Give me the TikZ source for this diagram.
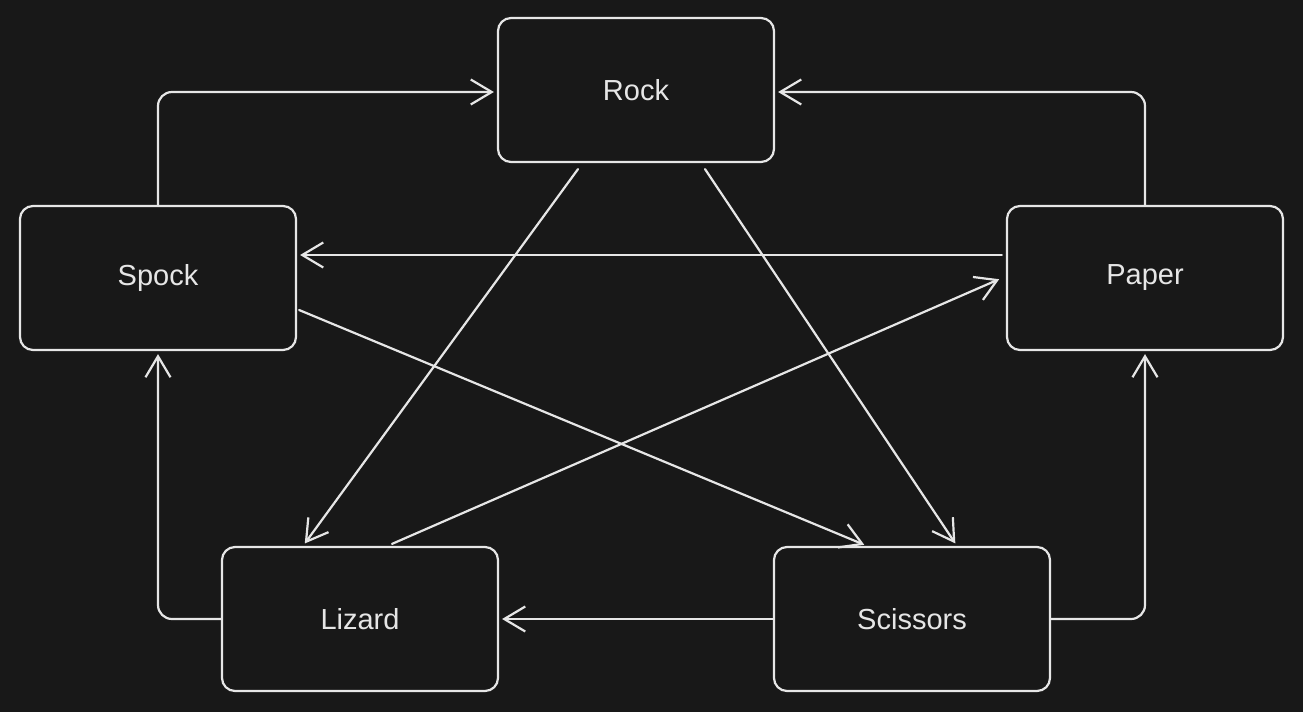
\documentclass[tikz,border=0pt]{standalone}
\usepackage{fontspec}
\setmainfont{Liberation Sans}
\usetikzlibrary{arrows.meta,calc}
\definecolor{bgc}{HTML}{181818}
\definecolor{fgc}{HTML}{E6E6E6}
\begin{document}
\begin{tikzpicture}[x=1pt,y=-1pt,
  box/.style={draw=fgc,fill=bgc,line width=2.2pt,rounded corners=13pt,
    minimum width=276pt,minimum height=144pt,inner sep=0pt,
    text=fgc,font=\fontsize{29}{32}\selectfont},
  conn/.style={draw=fgc,line width=2.2pt,line cap=round,
    -{Straight Barb[length=21pt,width=25pt,line width=2.2pt]},
    shorten >=3pt,rounded corners=14pt}]
\fill[bgc] (0,0) rectangle (1303,712);
\useasboundingbox (0,0) rectangle (1303,712);
\node[box] (Rock) at (636,90) {Rock};
\node[box] (Spock) at (158,278) {Spock};
\node[box] (Paper) at (1145,278) {Paper};
\node[box] (Lizard) at (360,619) {Lizard};
\node[box] (Scissors) at (912,619) {Scissors};
% orthogonal connectors
\draw[conn] (Spock.north) |- ($(Rock.west)+(0,2)$);
\draw[conn] (Paper.north) |- ($(Rock.east)+(0,2)$);
\draw[conn] (Lizard.west) -| (Spock.south);
\draw[conn] (Scissors.east) -| (Paper.south);
\draw[conn] (Scissors.west) -- (Lizard.east);
% straight connectors
\draw[conn] ($(Paper.west)+(-4,-23)$) -- ($(Spock.east)+(0,-23)$);
\draw[conn] ($(Rock.south)+(-58,6)$) -- ($(Lizard.north)+(-57,0)$);
\draw[conn] ($(Rock.south)+(69,6)$) -- ($(Scissors.north)+(45,0)$);
\draw[conn] ($(Spock.east)+(2,32)$) -- ($(Scissors.north)+(-45,0)$);
\draw[conn] ($(Lizard.north)+(32,-2)$) -- ($(Paper.west)+(-4,0)$);
\end{tikzpicture}
\end{document}
